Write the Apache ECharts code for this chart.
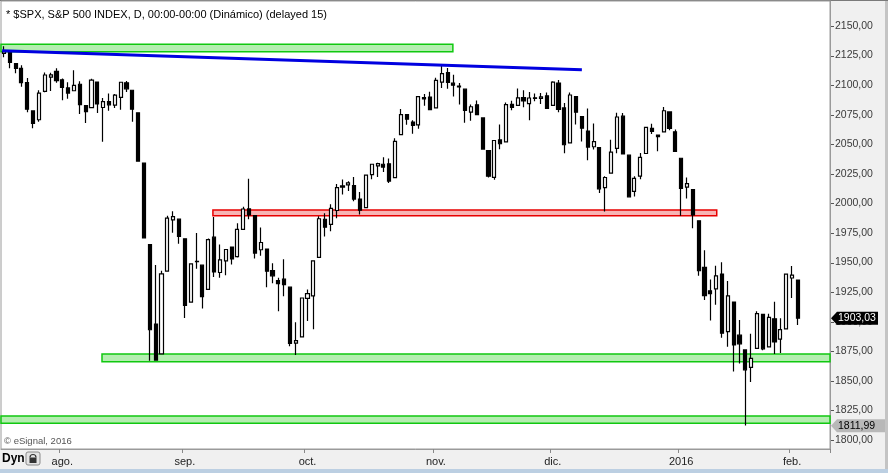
<!DOCTYPE html>
<html>
<head>
<meta charset="utf-8">
<script src="https://cdn.jsdelivr.net/npm/echarts@6/dist/echarts.min.js"></script>
<style>
html, body { margin: 0; padding: 0; background: #fff; }
#chart { width: 888px; height: 473px; }
</style>
</head>
<body>
<div id="chart"></div>
<script>
// S&P 500 daily, 20 jul 2015 - 2 feb 2016
const dates = [
  '2015-07-20','2015-07-21','2015-07-22','2015-07-23','2015-07-24','2015-07-27','2015-07-28','2015-07-29','2015-07-30','2015-07-31',
  '2015-08-03','2015-08-04','2015-08-05','2015-08-06','2015-08-07','2015-08-10','2015-08-11','2015-08-12','2015-08-13','2015-08-14',
  '2015-08-17','2015-08-18','2015-08-19','2015-08-20','2015-08-21','2015-08-24','2015-08-25','2015-08-26','2015-08-27','2015-08-28','2015-08-31',
  '2015-09-01','2015-09-02','2015-09-03','2015-09-04','2015-09-08','2015-09-09','2015-09-10','2015-09-11','2015-09-14','2015-09-15',
  '2015-09-16','2015-09-17','2015-09-18','2015-09-21','2015-09-22','2015-09-23','2015-09-24','2015-09-25','2015-09-28','2015-09-29','2015-09-30',
  '2015-10-01','2015-10-02','2015-10-05','2015-10-06','2015-10-07','2015-10-08','2015-10-09','2015-10-12','2015-10-13','2015-10-14','2015-10-15',
  '2015-10-16','2015-10-19','2015-10-20','2015-10-21','2015-10-22','2015-10-23','2015-10-26','2015-10-27','2015-10-28','2015-10-29','2015-10-30',
  '2015-11-02','2015-11-03','2015-11-04','2015-11-05','2015-11-06','2015-11-09','2015-11-10','2015-11-11','2015-11-12','2015-11-13',
  '2015-11-16','2015-11-17','2015-11-18','2015-11-19','2015-11-20','2015-11-23','2015-11-24','2015-11-25','2015-11-27','2015-11-30',
  '2015-12-01','2015-12-02','2015-12-03','2015-12-04','2015-12-07','2015-12-08','2015-12-09','2015-12-10','2015-12-11','2015-12-14','2015-12-15',
  '2015-12-16','2015-12-17','2015-12-18','2015-12-21','2015-12-22','2015-12-23','2015-12-24','2015-12-28','2015-12-29','2015-12-30','2015-12-31',
  '2016-01-04','2016-01-05','2016-01-06','2016-01-07','2016-01-08','2016-01-11','2016-01-12','2016-01-13','2016-01-14','2016-01-15',
  '2016-01-19','2016-01-20','2016-01-21','2016-01-22','2016-01-25','2016-01-26','2016-01-27','2016-01-28','2016-01-29',
  '2016-02-01','2016-02-02'
];
const openP = [
  2126.85,2127.55,2118.21,2114.16,2102.24,2078.19,2070.75,2094.70,2106.78,2111.60,
  2104.49,2097.68,2095.27,2100.75,2082.61,2080.98,2102.66,2081.10,2086.19,2083.15,
  2089.70,2101.99,2095.69,2076.61,2034.08,1965.15,1898.08,1872.75,1942.77,1986.06,1986.73,
  1970.09,1916.52,1950.79,1947.76,1927.30,1971.45,1941.59,1951.45,1963.06,1955.10,
  1978.02,1995.33,1989.66,1960.84,1961.39,1943.24,1934.81,1935.93,1929.18,1881.90,1887.14,
  1919.65,1921.77,1954.33,1986.63,1982.34,1994.01,2013.73,2015.65,2015.00,2003.66,1996.47,
  2024.37,2031.73,2033.13,2033.47,2021.88,2058.19,2075.08,2068.75,2066.48,2088.35,2090.00,
  2080.76,2102.63,2110.60,2101.68,2098.60,2096.56,2077.19,2083.41,2072.29,2044.64,
  2022.08,2053.67,2051.99,2083.70,2082.82,2089.41,2084.42,2089.30,2088.82,2090.95,
  2082.93,2101.71,2080.71,2051.24,2090.42,2073.39,2061.17,2047.93,2047.27,2013.37,2025.55,
  2046.50,2073.76,2040.81,2010.27,2023.15,2042.20,2063.52,2057.77,2060.54,2077.34,2060.59,
  2038.20,2013.78,2011.71,1985.32,1945.97,1926.12,1927.83,1940.34,1891.68,1916.68,
  1888.66,1876.18,1861.46,1877.40,1906.28,1878.79,1902.52,1885.22,1894.00,
  1936.94,1935.26
];
const highP = [
  2132.82,2128.41,2118.51,2116.87,2106.01,2078.19,2095.60,2110.60,2110.48,2114.24,
  2105.70,2102.51,2112.66,2103.32,2082.61,2105.35,2102.66,2089.06,2092.93,2092.45,
  2102.87,2103.47,2095.69,2076.61,2034.08,1965.15,1948.04,1943.09,1989.60,1993.48,1986.73,
  1970.09,1948.91,1975.01,1947.76,1970.42,1988.63,1965.29,1961.05,1963.06,1983.19,
  1997.26,2020.86,1989.66,1979.64,1961.39,1949.52,1937.17,1952.89,1929.18,1899.48,1920.53,
  1927.21,1951.36,1989.17,1991.62,1999.31,2016.50,2020.13,2018.66,2022.34,2009.56,2024.15,
  2033.54,2034.45,2039.12,2037.97,2055.20,2079.74,2075.14,2070.37,2090.35,2092.52,2094.32,
  2106.20,2116.48,2114.59,2108.78,2101.91,2096.56,2083.67,2086.94,2072.29,2044.64,
  2053.22,2066.69,2085.31,2086.74,2097.06,2095.61,2094.12,2093.00,2093.29,2093.81,
  2103.37,2104.27,2085.00,2093.84,2090.42,2073.85,2080.33,2067.65,2047.27,2022.92,2053.87,
  2076.72,2076.37,2040.81,2022.90,2042.74,2064.73,2067.36,2057.77,2081.56,2077.34,2062.54,
  2038.20,2021.94,2011.71,1985.32,1960.40,1935.65,1947.38,1950.33,1934.47,1916.68,
  1901.44,1876.18,1889.85,1908.85,1906.28,1906.73,1916.98,1902.96,1940.24,
  1947.20,1935.26
];
const lowP = [
  2123.66,2114.24,2110.00,2098.63,2077.09,2063.52,2069.09,2094.08,2094.97,2102.07,
  2087.31,2088.60,2095.27,2075.53,2067.91,2080.98,2076.49,2052.09,2078.26,2080.61,
  2079.30,2094.14,2069.09,2035.73,1970.89,1867.01,1867.08,1872.75,1942.77,1975.19,1965.98,
  1903.07,1916.52,1944.72,1911.21,1927.30,1937.88,1937.19,1939.19,1948.27,1954.30,
  1977.93,1986.73,1953.45,1955.80,1929.22,1932.57,1908.92,1921.50,1879.21,1871.91,1887.14,
  1900.70,1893.70,1954.33,1971.99,1976.44,1987.53,2007.61,2010.55,2001.78,1990.73,1996.47,
  2020.46,2022.31,2026.61,2017.22,2021.88,2058.19,2066.53,2058.84,2063.11,2082.63,2079.34,
  2080.76,2097.51,2096.98,2090.41,2083.74,2068.24,2069.91,2074.85,2045.66,2022.02,
  2019.94,2045.90,2051.99,2078.76,2082.82,2081.39,2070.29,2086.30,2084.13,2080.41,
  2082.93,2077.11,2042.35,2051.24,2066.78,2052.32,2036.53,2045.67,2008.80,1993.26,2025.55,
  2042.43,2041.66,2005.33,2005.93,2020.49,2042.20,2058.73,2044.20,2060.54,2061.97,2043.62,
  1989.68,2004.17,1979.05,1938.83,1918.46,1901.10,1914.35,1886.41,1878.93,1857.83,
  1864.60,1812.29,1848.98,1877.40,1875.97,1878.79,1872.70,1873.65,1894.00,
  1920.03,1897.29
];
const closeP = [
  2128.28,2119.21,2114.15,2102.15,2079.65,2067.64,2093.25,2108.57,2108.63,2103.84,
  2098.04,2093.32,2099.84,2083.56,2077.57,2104.18,2084.07,2086.05,2083.39,2091.54,
  2102.44,2096.92,2079.61,2035.73,1970.89,1893.21,1867.61,1940.51,1987.66,1988.87,1972.18,
  1913.85,1948.86,1951.13,1921.22,1969.41,1942.04,1952.29,1961.05,1953.03,1978.09,
  1995.31,1990.20,1958.03,1966.97,1942.74,1938.76,1932.24,1931.34,1881.77,1884.09,1920.03,
  1923.82,1951.36,1987.05,1979.92,1995.83,2013.43,2014.89,2017.46,2003.69,1994.24,2023.86,
  2033.11,2033.66,2030.77,2018.94,2052.51,2075.15,2071.18,2065.89,2090.35,2089.41,2079.36,
  2104.05,2109.79,2102.31,2099.93,2099.20,2078.58,2081.72,2075.00,2045.97,2023.04,
  2053.19,2050.44,2083.58,2081.24,2089.17,2086.59,2089.14,2088.87,2090.11,2080.41,
  2102.63,2079.51,2049.62,2091.69,2077.07,2063.59,2047.62,2052.23,2012.37,2021.94,2043.41,
  2073.07,2041.89,2005.55,2021.15,2038.97,2064.29,2060.99,2056.50,2078.36,2063.36,2043.94,
  2012.66,2016.71,1990.26,1943.09,1922.03,1923.67,1938.68,1890.28,1921.84,1880.33,
  1881.33,1859.33,1868.99,1906.90,1877.08,1903.63,1882.95,1893.36,1940.24,
  1939.38,1903.03
];

// eje de precios y eje de meses
const yTicks = [1800,1825,1850,1875,1900,1925,1950,1975,2000,2025,2050,2075,2100,2125,2150];
const monthTickDates = ['2015-08-03','2015-09-01','2015-10-01','2015-11-02','2015-12-01','2016-01-04','2016-02-01'];
const monthTickLabels = ['ago.','sep.','oct.','nov.','dic.','2016','feb.'];
const emptySlots = ['e1','e2','e3','e4','e5'];

// zonas dibujadas a mano (indice de vela inicial/final, precio bajo/alto)
const zoneStart = [-0.5, 35.8, 16.8, -0.5];
const zoneEnd   = [76.9, 122.1, 141.5, 141.5];
const zoneLow   = [2128.3, 1989.6, 1866.2, 1814.1];
const zoneHigh  = [2134.5, 1994.5, 1872.7, 1820.3];
const zoneKind  = ['green', 'red', 'green', 'green'];

// linea de tendencia azul
const trendX = [-0.3, 99.0];
const trendY = [2129.1, 2113.1];

const lastPrice = 1903.03;
const markPrice = 1811.99;

const FONT = 'Liberation Sans, Arial, sans-serif';
const Y_MIN = 1792.39, Y_MAX = 2171.14;

const cats = dates.concat(emptySlots);
const candleRows = dates.map((d, i) => [openP[i], closeP[i], lowP[i], highP[i]]);
const zoneRows = zoneKind.map((k, i) => [zoneStart[i], zoneEnd[i], zoneLow[i], zoneHigh[i], k === 'red' ? 1 : 0]);
const isMonth = (idx, val) => monthTickDates.indexOf(val) >= 0;
const priceFmt = v => v.toFixed(2).replace('.', ',');

const chart = echarts.init(document.getElementById('chart'));

const option = {
  animation: false,
  backgroundColor: '#ffffff',
  grid: {
    left: 1, right: 58, top: 1, bottom: 24,
    show: true, backgroundColor: '#ffffff',
    borderColor: '#9a9a9a', borderWidth: 1
  },
  xAxis: [
    {
      type: 'category',
      data: cats,
      boundaryGap: true,
      axisLine: { show: true, onZero: false, lineStyle: { color: '#9a9a9a' } },
      axisTick: { show: true, interval: isMonth, length: 4, lineStyle: { color: '#888' } },
      axisLabel: {
        interval: isMonth,
        formatter: v => monthTickLabels[monthTickDates.indexOf(v)] || '',
        color: '#222', fontSize: 11, fontFamily: FONT, margin: 7
      },
      splitLine: { show: false }
    },
    { type: 'value', min: -0.5, max: 141.5, show: false }
  ],
  yAxis: {
    type: 'value',
    position: 'right',
    min: Y_MIN, max: Y_MAX,
    axisLine: { show: true, onZero: false, lineStyle: { color: '#9a9a9a' } },
    splitLine: { show: false },
    axisTick: { show: false },
    axisLabel: {
      customValues: yTicks, formatter: priceFmt,
      color: '#3a3a3a', fontSize: 10.5, fontFamily: FONT, margin: 5
    }
  },
  series: [
    {
      type: 'custom',
      xAxisIndex: 1,
      silent: true,
      z: 1,
      data: zoneRows,
      encode: { x: [0, 1], y: [2, 3] },
      renderItem: (params, api) => {
        const p0 = api.coord([api.value(0), api.value(3)]);
        const p1 = api.coord([api.value(1), api.value(2)]);
        const red = api.value(4) === 1;
        return {
          type: 'rect',
          shape: { x: p0[0], y: p0[1], width: p1[0] - p0[0], height: p1[1] - p0[1] },
          style: {
            fill: red ? '#f7b4b4' : '#b4eeb0',
            stroke: red ? '#e80000' : '#10c810',
            lineWidth: 1.5
          }
        };
      }
    },
    {
      type: 'candlestick',
      xAxisIndex: 0,
      z: 3,
      barWidth: 3.6,
      data: candleRows,
      itemStyle: {
        color: '#ffffff', color0: '#000000',
        borderColor: '#000000', borderColor0: '#000000',
        borderWidth: 1.2
      }
    },
    {
      type: 'line',
      xAxisIndex: 1,
      z: 4,
      silent: true,
      symbol: 'none',
      data: trendX.map((x, i) => [x, trendY[i]]),
      lineStyle: { color: '#0000e0', width: 3 }
    }
  ]
};
chart.setOption(option);

// rayitas del eje de precios y etiquetas de precio tipo eSignal
const tickMarks = yTicks.map(v => {
  const y = Math.round(chart.convertToPixel({ yAxisIndex: 0 }, v)) + 0.5;
  return { type: 'line', z: 5, shape: { x1: 831, y1: y, x2: 834, y2: y }, style: { stroke: '#555', lineWidth: 1 } };
});

const tag = (price, fill, txt, right) => {
  const y = chart.convertToPixel({ yAxisIndex: 0 }, price);
  return [
    {
      type: 'polygon', z: 100,
      shape: { points: [[831, y], [837, y - 6.5], [right, y - 6.5], [right, y + 6.5], [837, y + 6.5]] },
      style: { fill: fill }
    },
    {
      type: 'text', z: 101, x: 838, y: y,
      style: { text: priceFmt(price), fill: txt, font: '10.5px ' + FONT, verticalAlign: 'middle' }
    }
  ];
};

chart.setOption({
  graphic: [
    { type: 'rect', z: -1, shape: { x: 831, y: 0, width: 57, height: 473 }, style: { fill: '#f0f0f0' } },
    { type: 'rect', z: -1, shape: { x: 0, y: 449, width: 888, height: 20 }, style: { fill: '#f0f0f0' } },
    { type: 'rect', z: -1, shape: { x: 0, y: 469, width: 888, height: 4 }, style: { fill: '#bccfe2' } },
    { type: 'rect', z: -1, shape: { x: 885, y: 0, width: 3, height: 469 }, style: { fill: '#c4c4c4' } },
    { type: 'rect', z: -1, shape: { x: 0, y: 0, width: 888, height: 1 }, style: { fill: '#7a7a7a' } },
    {
      type: 'text', z: 50, x: 6, y: 9,
      style: { text: '* $SPX, S&P 500 INDEX, D, 00:00-00:00 (Dinámico) (delayed 15)', fill: '#000', font: '11px ' + FONT }
    },
    {
      type: 'text', z: 50, x: 4, y: 436,
      style: { text: '\u00a9 eSignal, 2016', fill: '#555', font: '9.5px ' + FONT }
    },
    {
      type: 'text', z: 50, x: 2, y: 459,
      style: { text: 'Dyn', fill: '#000', font: 'bold 12px ' + FONT, verticalAlign: 'middle' }
    },
    { type: 'rect', z: 50, shape: { x: 26, y: 452, width: 14, height: 13, r: 2 }, style: { fill: '#e4e4e4', stroke: '#8a8a8a', lineWidth: 1 } },
    { type: 'arc', z: 51, shape: { cx: 33, cy: 457.5, r: 3, startAngle: Math.PI, endAngle: 0 }, style: { stroke: '#333', fill: null, lineWidth: 1.2 } },
    { type: 'rect', z: 51, shape: { x: 29.5, y: 457.5, width: 7, height: 5.5 }, style: { fill: '#333' } }
  ].concat(tickMarks, tag(lastPrice, '#000000', '#ffffff', 878), tag(markPrice, '#b8b8b8', '#000000', 885))
});
</script>
</body>
</html>
